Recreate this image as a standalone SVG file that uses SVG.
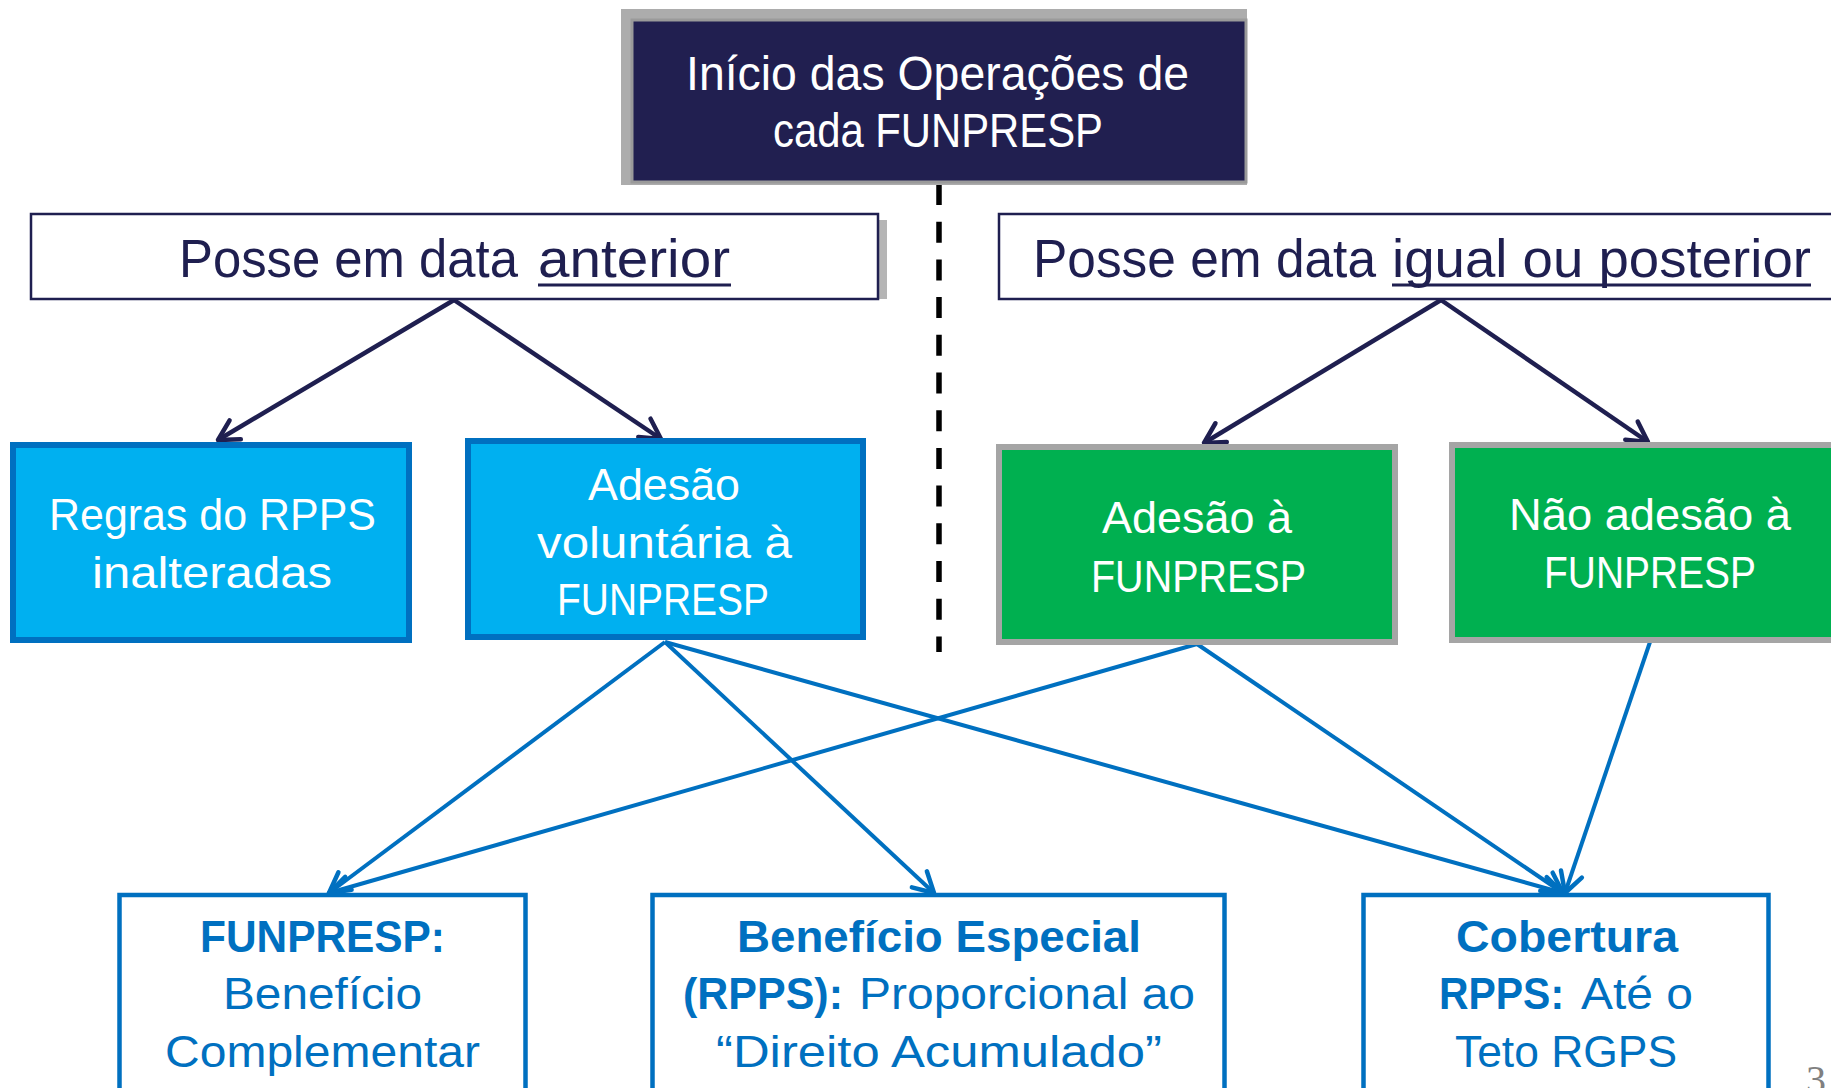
<svg xmlns="http://www.w3.org/2000/svg" width="1831" height="1088" viewBox="0 0 1831 1088">
<style>
  text { font-family: "Liberation Sans", Arial, sans-serif; }
  .tTop { font-size: 49px; fill: #ffffff; }
  .tHead { font-size: 53px; fill: #1f1f50; }
  .tBox { font-size: 45px; fill: #ffffff; }
  .tBot { font-size: 45px; fill: #0070c0; }
  .b { font-weight: bold; }
  .cyan { fill: #00b0f0; stroke: #0070c0; stroke-width: 6; }
  .green { fill: #00b050; stroke: #a5a5a5; stroke-width: 6; }
  .head { fill: #ffffff; stroke: #1f1f50; stroke-width: 2.5; }
  .bot { fill: #ffffff; stroke: #0070c0; stroke-width: 4.5; }
  .navy { fill: none; stroke: #1f1f50; stroke-width: 4.5; }
  .blue { fill: none; stroke: #0070c0; stroke-width: 4; }
  .ul { stroke: #1f1f50; stroke-width: 3; }
</style>
<defs>
  <marker id="ahN" markerUnits="userSpaceOnUse" markerWidth="50" markerHeight="50" viewBox="-30 -25 50 50" refX="0" refY="0" orient="auto" overflow="visible">
    <path d="M-20,-11 L0,0 L-20,11" fill="none" stroke="#1f1f50" stroke-width="4.5" stroke-linecap="round" stroke-linejoin="round"/>
  </marker>
  <marker id="ahB" markerUnits="userSpaceOnUse" markerWidth="50" markerHeight="50" viewBox="-30 -25 50 50" refX="0" refY="0" orient="auto" overflow="visible">
    <path d="M-20,-11 L0,0 L-20,11" fill="none" stroke="#0070c0" stroke-width="4.5" stroke-linecap="round" stroke-linejoin="round"/>
  </marker>
</defs>
<rect width="1831" height="1088" fill="#ffffff"/>

<g id="connectors">
  <line x1="939" y1="184" x2="939" y2="652" stroke="#000000" stroke-width="5.5" stroke-dasharray="21 16.7"/>
  <line class="navy" x1="454" y1="300" x2="218" y2="440" marker-end="url(#ahN)"/>
  <line class="navy" x1="454" y1="300" x2="661" y2="439" marker-end="url(#ahN)"/>
  <line class="navy" x1="1441" y1="300" x2="1204" y2="443" marker-end="url(#ahN)"/>
  <line class="navy" x1="1441" y1="300" x2="1648" y2="442" marker-end="url(#ahN)"/>
  <line class="blue" x1="665" y1="642" x2="329" y2="893" marker-end="url(#ahB)"/>
  <line class="blue" x1="665" y1="642" x2="934" y2="893" marker-end="url(#ahB)"/>
  <line class="blue" x1="665" y1="642" x2="1563" y2="893" marker-end="url(#ahB)"/>
  <line class="blue" x1="1197" y1="644" x2="329" y2="893" marker-end="url(#ahB)"/>
  <line class="blue" x1="1197" y1="644" x2="1563" y2="893" marker-end="url(#ahB)"/>
  <line class="blue" x1="1650" y1="642" x2="1565" y2="893" marker-end="url(#ahB)"/>
</g>

<g id="node-inicio">
  <rect x="621" y="9" width="626" height="176" fill="#acacac"/>
  <rect x="632" y="20" width="614" height="162" fill="#211f50" stroke="#9a9a9a" stroke-width="3"/>
  <text class="tTop" x="686" y="90" textLength="503" lengthAdjust="spacingAndGlyphs">Início das Operações de</text>
  <text class="tTop" x="773" y="147" textLength="330" lengthAdjust="spacingAndGlyphs">cada FUNPRESP</text>
</g>

<g id="node-anterior">
  <rect x="40" y="220" width="847" height="79" fill="#b5b5b5"/>
  <rect class="head" x="31" y="214" width="847" height="85"/>
  <text class="tHead" x="179" y="277" textLength="339" lengthAdjust="spacingAndGlyphs">Posse em data</text>
  <text class="tHead" x="538" y="277" textLength="192" lengthAdjust="spacingAndGlyphs">anterior</text>
  <line class="ul" x1="538" y1="285" x2="731" y2="285"/>
</g>

<g id="node-posterior">
  <rect class="head" x="999" y="214" width="900" height="85"/>
  <text class="tHead" x="1033" y="277" textLength="343" lengthAdjust="spacingAndGlyphs">Posse em data</text>
  <text class="tHead" x="1392" y="277" textLength="419" lengthAdjust="spacingAndGlyphs">igual ou posterior</text>
  <line class="ul" x1="1392" y1="285" x2="1811" y2="285"/>
</g>

<g id="node-regras">
  <rect class="cyan" x="13" y="445" width="396" height="195"/>
  <text class="tBox" x="49" y="530" textLength="327" lengthAdjust="spacingAndGlyphs">Regras do RPPS</text>
  <text class="tBox" x="92" y="588" textLength="240" lengthAdjust="spacingAndGlyphs">inalteradas</text>
</g>

<g id="node-adesao-voluntaria">
  <rect class="cyan" x="468" y="441" width="395" height="196"/>
  <text class="tBox" x="588" y="500" textLength="152" lengthAdjust="spacingAndGlyphs">Adesão</text>
  <text class="tBox" x="537" y="558" textLength="255" lengthAdjust="spacingAndGlyphs">voluntária à</text>
  <text class="tBox" x="557" y="615" textLength="212" lengthAdjust="spacingAndGlyphs">FUNPRESP</text>
</g>

<g id="node-adesao">
  <rect class="green" x="999" y="447" width="396" height="195"/>
  <text class="tBox" x="1102" y="533" textLength="190" lengthAdjust="spacingAndGlyphs">Adesão à</text>
  <text class="tBox" x="1091" y="592" textLength="215" lengthAdjust="spacingAndGlyphs">FUNPRESP</text>
</g>

<g id="node-nao-adesao">
  <rect class="green" x="1452" y="445" width="396" height="195"/>
  <text class="tBox" x="1509" y="530" textLength="282" lengthAdjust="spacingAndGlyphs">Não adesão à</text>
  <text class="tBox" x="1544" y="588" textLength="212" lengthAdjust="spacingAndGlyphs">FUNPRESP</text>
</g>

<g id="node-funpresp">
  <rect class="bot" x="119.5" y="895" width="406" height="220"/>
  <text class="tBot b" x="200" y="952" textLength="245" lengthAdjust="spacingAndGlyphs">FUNPRESP:</text>
  <text class="tBot" x="223" y="1009" textLength="199" lengthAdjust="spacingAndGlyphs">Benefício</text>
  <text class="tBot" x="165" y="1067" textLength="315" lengthAdjust="spacingAndGlyphs">Complementar</text>
</g>

<g id="node-beneficio-especial">
  <rect class="bot" x="652.5" y="895" width="572" height="220"/>
  <text class="tBot b" x="737" y="952" textLength="404" lengthAdjust="spacingAndGlyphs">Benefício Especial</text>
  <text class="tBot b" x="683" y="1009" textLength="160" lengthAdjust="spacingAndGlyphs">(RPPS):</text>
  <text class="tBot" x="859" y="1009" textLength="336" lengthAdjust="spacingAndGlyphs">Proporcional ao</text>
  <text class="tBot" x="716" y="1067" textLength="446" lengthAdjust="spacingAndGlyphs">“Direito Acumulado”</text>
</g>

<g id="node-cobertura">
  <rect class="bot" x="1363.5" y="895" width="405" height="220"/>
  <text class="tBot b" x="1456" y="952" textLength="222" lengthAdjust="spacingAndGlyphs">Cobertura</text>
  <text class="tBot b" x="1439" y="1009" textLength="125" lengthAdjust="spacingAndGlyphs">RPPS:</text>
  <text class="tBot" x="1581" y="1009" textLength="112" lengthAdjust="spacingAndGlyphs">Até o</text>
  <text class="tBot" x="1455" y="1067" textLength="222" lengthAdjust="spacingAndGlyphs">Teto RGPS</text>
</g>

<text x="1806" y="1093" font-size="40" fill="#808080" style="font-family: 'Liberation Serif', serif;">3</text>
</svg>
